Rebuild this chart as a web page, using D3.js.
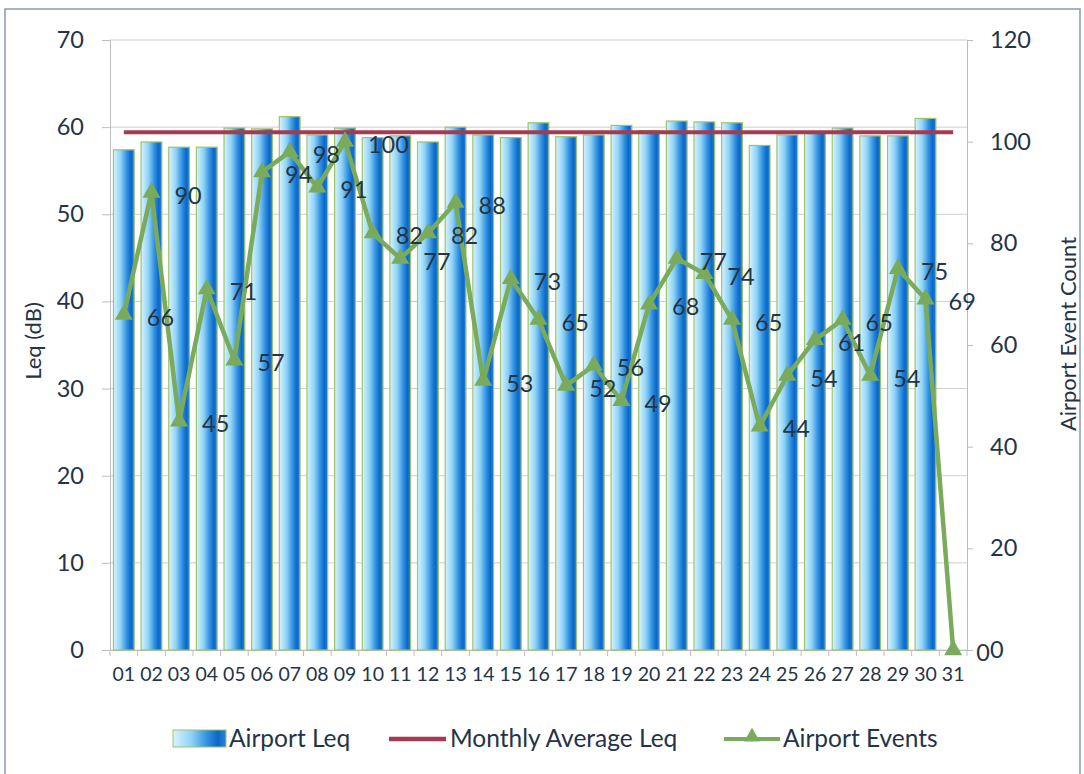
<!DOCTYPE html>
<html><head><meta charset="utf-8">
<script src="https://cdn.jsdelivr.net/npm/d3@7"></script>
<style>
body{margin:0;background:#fff;}
svg{display:block;font-family:Lato,"Open Sans",sans-serif;}
</style></head>
<body>
<svg id="chart" width="1084" height="774"></svg>
<script>
const days = ["01","02","03","04","05","06","07","08","09","10","11","12","13","14","15","16","17","18","19","20","21","22","23","24","25","26","27","28","29","30","31"];
const airportLeq = [57.4,58.3,57.7,57.7,59.9,59.8,61.2,59.1,59.9,58.8,59.0,58.3,60.0,59.1,58.8,60.5,58.9,59.1,60.2,59.6,60.7,60.6,60.5,57.9,59.1,59.5,59.9,59.0,59.0,61.0,null];
const monthlyAvgLeq = 59.4;
const airportEvents = [66,90,45,71,57,94,98,91,100,82,77,82,88,53,73,65,52,56,49,68,77,74,65,44,54,61,65,54,75,69,0];
const leftTicks = [0,10,20,30,40,50,60,70];
const rightTicks = [0,20,40,60,80,100,120];

const svg = d3.select("#chart");
const L = 110, R = 967, T = 40, B = 650;
const txt = "#243447";

// frame
svg.append("rect").attr("x",5).attr("y",9).attr("width",1075).attr("height",770)
  .attr("fill","none").attr("stroke","#8a9bb0").attr("stroke-width",1.5);

const x = d3.scaleBand().domain(days).range([L,R]).paddingInner(0.25).paddingOuter(0.125);
const yL = d3.scaleLinear().domain([0,70]).range([B,T]);
const yR = d3.scaleLinear().domain([0,120]).range([B,T]);

// gradient
const defs = svg.append("defs");
const g = defs.append("linearGradient").attr("id","barGrad").attr("x1","0").attr("x2","1").attr("y1","0").attr("y2","0");
[["0%","#d8f4ff"],["35%","#8ed2f6"],["65%","#2f8fe0"],["85%","#0a67c8"],["100%","#2a86d8"]].forEach(s=>g.append("stop").attr("offset",s[0]).attr("stop-color",s[1]));

// gridlines
svg.append("g").selectAll("line").data(leftTicks).join("line")
  .attr("x1",L).attr("x2",R).attr("y1",d=>yL(d)).attr("y2",d=>yL(d))
  .attr("stroke","#cfcfcf").attr("stroke-width",1);

// left axis
const ax = svg.append("g").attr("transform",`translate(${L},0)`)
  .call(d3.axisLeft(yL).tickValues(leftTicks).tickSize(8).tickPadding(18));
ax.select(".domain").attr("stroke","#bdbdbd");
ax.selectAll(".tick line").attr("stroke","#bdbdbd");
ax.selectAll("text").attr("fill",txt).style("font-size","23.5px").style("font-family","Lato");

// right axis
const ar = svg.append("g").attr("transform",`translate(${R},0)`)
  .call(d3.axisRight(yR).tickValues(rightTicks).tickSize(6).tickPadding(17));
ar.select(".domain").attr("stroke","#bdbdbd");
ar.selectAll(".tick line").attr("stroke","#bdbdbd");
ar.selectAll("text").attr("fill",txt).style("font-size","23.5px").style("font-family","Lato");

// bottom axis
const ab = svg.append("g").attr("transform",`translate(0,${B})`)
  .call(d3.axisBottom(x).tickSize(0).tickPadding(17));
ab.select(".domain").attr("stroke","#bdbdbd");
ab.selectAll("text").attr("fill",txt).style("font-size","19.5px").style("font-family","Lato");
svg.append("g").selectAll("line").data(d3.range(days.length+1)).join("line")
  .attr("x1",i=>L+i*x.step()).attr("x2",i=>L+i*x.step())
  .attr("y1",B).attr("y2",B+6).attr("stroke","#bdbdbd");

// bars
svg.append("g").selectAll("rect").data(days.map((d,i)=>({d,v:airportLeq[i]})).filter(o=>o.v!=null)).join("rect")
  .attr("x",o=>x(o.d)).attr("width",x.bandwidth())
  .attr("y",o=>yL(o.v)).attr("height",o=>B-yL(o.v))
  .attr("fill","url(#barGrad)").attr("stroke","#9cc46c").attr("stroke-width",1.2);

// monthly average line
svg.append("line")
  .attr("x1",x(days[0])+x.bandwidth()/2).attr("x2",x(days[days.length-1])+x.bandwidth()/2)
  .attr("y1",yL(monthlyAvgLeq)).attr("y2",yL(monthlyAvgLeq))
  .attr("stroke","#a53b50").attr("stroke-width",4);

// events line
const pts = days.map((d,i)=>({d,v:airportEvents[i],cx:x(d)+x.bandwidth()/2,cy:yR(airportEvents[i])}));
svg.append("path").datum(pts)
  .attr("d",d3.line().x(p=>p.cx).y(p=>p.cy))
  .attr("fill","none").attr("stroke","#7aab5c").attr("stroke-width",4.5).attr("stroke-linejoin","round");
svg.append("g").selectAll("path").data(pts).join("path")
  .attr("transform",p=>`translate(${p.cx},${p.cy})`)
  .attr("d",d3.symbol(d3.symbolTriangle,140))
  .attr("fill","#7aab5c");
svg.append("g").selectAll("text").data(pts).join("text")
  .attr("x",p=>p.cx+23).attr("y",p=>p.cy+11)
  .attr("fill",txt).style("font-size","23.5px")
  .text(p=>p.v);

// axis titles
svg.append("text").attr("transform","translate(41,341) rotate(-90)")
  .attr("text-anchor","middle").attr("fill",txt).style("font-size","22px").text("Leq (dB)");
svg.append("text").attr("transform","translate(1076,334) rotate(-90)")
  .attr("text-anchor","middle").attr("fill",txt).style("font-size","22px").text("Airport Event Count");

// legend
const lg = svg.append("g").style("font-size","24.5px");
lg.append("rect").attr("x",173).attr("y",730).attr("width",53).attr("height",17)
  .attr("fill","url(#barGrad)").attr("stroke","#9cc46c");
lg.append("text").attr("x",229).attr("y",747).attr("fill",txt).text("Airport Leq");
lg.append("line").attr("x1",389).attr("x2",446).attr("y1",739).attr("y2",739)
  .attr("stroke","#a53b50").attr("stroke-width",4.5);
lg.append("text").attr("x",450).attr("y",747).attr("fill",txt).text("Monthly Average Leq");
lg.append("line").attr("x1",724).attr("x2",780).attr("y1",739).attr("y2",739)
  .attr("stroke","#7aab5c").attr("stroke-width",4);
lg.append("path").attr("transform","translate(752,737)").attr("d",d3.symbol(d3.symbolTriangle,110)).attr("fill","#7aab5c");
lg.append("text").attr("x",783).attr("y",747).attr("fill",txt).text("Airport Events");
</script>
</body></html>
